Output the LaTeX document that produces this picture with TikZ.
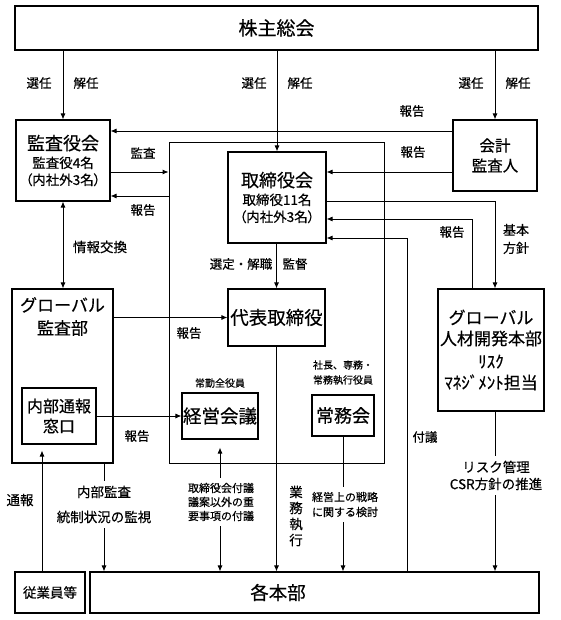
\documentclass[tikz,border=0pt]{standalone}
\usepackage{fontspec}
\setmainfont[FakeBold=0.4]{Noto Sans CJK JP}
\newfontfamily\pfont[RawFeature=+palt,FakeBold=0.4]{Noto Sans CJK JP}
\usetikzlibrary{arrows.meta}
\newcommand\jfs[2]{\fontsize{#1}{#2}\selectfont}
\tikzset{
  box/.style={draw, line width=1.1pt, inner sep=0pt, align=center},
  lbl/.style={font=\jfs{12.5}{15}, inner sep=1pt, align=center},
  small/.style={font=\jfs{10}{15}, inner sep=1pt, align=center},
  cover/.style={fill=white, inner xsep=1pt, inner ysep=5pt, align=center},
  ln/.style={line width=0.9pt},
  arr/.style={line width=0.9pt, -{Latex[length=6pt,width=5pt]}},
  darr/.style={line width=0.9pt, {Latex[length=6pt,width=5pt]}-{Latex[length=6pt,width=5pt]}},
}
\begin{document}
\begin{tikzpicture}[x=1pt,y=-1pt]
\useasboundingbox[fill=white] (0,0) rectangle (560,620);

% ---- boxes ----
\node[box, minimum width=523pt, minimum height=44pt, font=\jfs{19}{22}] (gm) at (276.5,28) {株主総会};
\node[box, minimum width=94pt, minimum height=81pt, font=\jfs{13.5}{17}] (kansa) at (63,160.5)
  {{\jfs{18}{20}監査役会}\\[1pt]監査役4名\\{\pfont （内社外3名）}};
\node[box, minimum width=84pt, minimum height=71pt, font=\jfs{15.5}{20}] (kaikei) at (495,155.5) {会計\\監査人};
\node[box, line width=0.9pt, minimum width=215pt, minimum height=321pt] (exec) at (276.5,302.5) {};
\node[box, minimum width=98pt, minimum height=91pt, font=\jfs{13.5}{17}] (tori) at (277,197.5)
  {{\jfs{18}{20}取締役会}\\[1pt]取締役11名\\{\pfont （内社外3名）}};
\node[box, minimum width=97pt, minimum height=57pt, font=\jfs{18.5}{22}] (daihyo) at (276.5,317.5) {代表取締役};
\node[box, minimum width=101pt, minimum height=174pt] (gka) at (62.5,376) {};
\node[font=\jfs{17}{23}, align=center, inner sep=0pt] (gkaT) at (62.5,316.5) {グローバル\\監査部};
\node[box, minimum width=74pt, minimum height=56pt, font=\jfs{16}{20}] (naibu) at (59,416) {内部通報\\窓口};
\node[box, minimum width=76pt, minimum height=46pt, font=\jfs{18.5}{22}] (keiei) at (220,416) {経営会議};
\node[box, minimum width=62pt, minimum height=41pt, font=\jfs{18}{22}] (jomu) at (343,415.5) {常務会};
\node[box, minimum width=106pt, minimum height=122pt, font=\jfs{17}{21}] (jinzai) at (491,350)
  {グローバル\\人材開発本部\\[2pt]ﾘｽｸ\\ﾏﾈｼﾞﾒﾝﾄ担当};
\node[box, minimum width=70pt, minimum height=41pt, font=\jfs{13.5}{17}] (jugyo) at (50,592.5) {従業員等};
\node[box, minimum width=449pt, minimum height=41pt] (kakuhon) at (314.5,592.5) {};
\node[font=\jfs{18.5}{22}, inner sep=0pt] (kakuhonT) at (278,592.5) {各本部};

% ---- connectors ----
\draw[arr] (gm.south -| kansa.north) -- (kansa.north);
\draw[arr] (gm.south -| tori.north) -- (tori.north);
\draw[arr] (gm.south -| kaikei.north) -- (kaikei.north);
\draw[arr] (kaikei.west |- 0,131) -- (kansa.east |- 0,131);
\draw[arr] (kansa.east |- 0,172) -- (exec.west |- 0,172);
\draw[arr] (exec.west |- 0,196) -- (kansa.east |- 0,196);
\draw[darr] (kansa.south) -- (gka.north -| kansa.south);
\draw[arr] (kaikei.west |- 0,172) -- (tori.east |- 0,172);
\draw[arr] (tori.east |- 0,201) -| (jinzai.north -| kaikei.south);
\draw[arr] (jinzai.north -| 472,0) |- (tori.east |- 0,219);
\draw[arr] (kakuhon.north -| 407,0) |- (tori.east |- 0,238);
\draw[arr] (tori.south -| daihyo.north) -- (daihyo.north);
\draw[arr] (gka.east |- daihyo.west) -- (daihyo.west);
\draw[arr] (naibu.east) -- (keiei.west);
\draw[arr] (daihyo.south) -- (kakuhon.north -| daihyo.south);
\draw[arr] (jomu.south) -- (kakuhon.north -| jomu.south);
\draw[darr, shorten >=8pt] (kakuhon.north -| keiei.south) -- (keiei.south);
\draw[arr] (gka.south -| 104,0) -- (kakuhon.north -| 104,0);
\draw[arr, shorten >=6pt] (jugyo.north -| 42,0) -- (naibu.south -| 42,0);
\draw[arr] (jinzai.south -| kaikei.south) -- (kakuhon.north -| kaikei.south);

% ---- labels ----
\node[lbl] (l1) at (39,83) {選任};
\node[lbl] (l2) at (86,83) {解任};
\node[lbl] (l3) at (254,83) {選任};
\node[lbl] (l4) at (300,83) {解任};
\node[lbl] (l5) at (471,83) {選任};
\node[lbl] (l6) at (518,83) {解任};
\node[lbl] (l7) at (412,111) {報告};
\node[lbl] (l8) at (143,153) {監査};
\node[lbl] (l9) at (143,210) {報告};
\node[lbl] (l10) at (413,152) {報告};
\node[lbl, font=\jfs{13.5}{16}] (l11) at (100,247) {情報交換};
\node[lbl] (l12) at (241,264) {選定・解職};
\node[lbl] (l13) at (295,264) {監督};
\node[lbl] (l14) at (452,232) {報告};
\node[lbl, font=\jfs{13}{18}] (l15) at (516,239) {基本\\方針};
\node[lbl] (l16) at (189,333) {報告};
\node[lbl] (l17) at (137,436) {報告};
\node[small] (l18) at (220,383) {常勤全役員};
\node[small] (l19) at (343,372.5) {社長、専務・\\常務執行役員};
\node[lbl] (l20) at (425,437) {付議};
\node[lbl, font=\jfs{13.5}{16}] (l21) at (20,500) {通報};
\node[cover, font=\jfs{13.5}{25}] (l22) at (104,504.5) {内部監査\\統制状況の監視};
\node[cover, font=\jfs{11}{14}] (l23) at (221,502) {取締役会付議\\議案以外の重\\要事項の付議};
\node[lbl, font=\jfs{13.5}{16}] (l24) at (296,516) {業\\務\\執\\行};
\node[cover, font=\jfs{11}{15}] (l25) at (345,504.5) {経営上の戦略\\に関する検討};
\node[cover, font=\jfs{13.5}{17}] (l26) at (496,475.5) {リスク管理\\CSR方針の推進};
\end{tikzpicture}
\end{document}
